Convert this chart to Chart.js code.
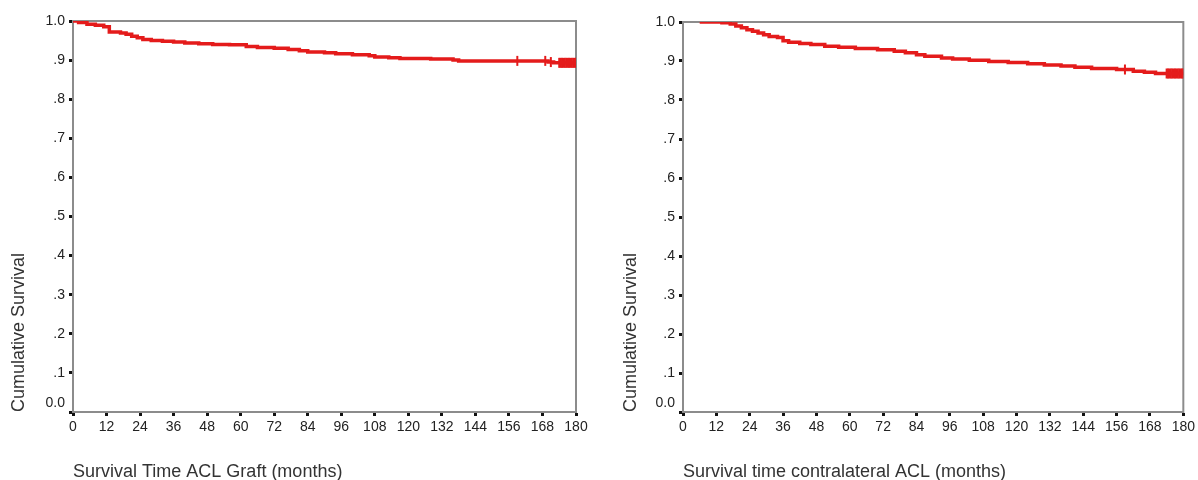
<!DOCTYPE html>
<html>
<head>
<meta charset="utf-8">
<script src="https://cdn.jsdelivr.net/npm/chart.js@4/dist/chart.umd.min.js"></script>
<style>
  body { margin: 0; background: #fff; }
  .panel { position: absolute; top: 0; }
</style>
</head>
<body>
<div class="panel" style="left:0"><canvas id="graftChart" width="600" height="480"></canvas></div>
<div class="panel" style="left:600px"><canvas id="contraChart" width="598" height="480"></canvas></div>
<script>
// survival curves (months, cumulative survival after each step)
const graftMonths   = [0, 2, 5, 8, 11, 13, 17, 19, 21, 23, 25, 28, 32, 36, 40, 45, 50, 56, 62, 66, 72, 77, 81, 84, 90, 94, 100, 106, 108, 113, 117, 128, 136, 138, 170, 172, 180];
const graftSurvival = [1.0, .996, .992, .989, .985, .972, .969, .966, .961, .957, .953, .950, .948, .946, .944, .942, .940, .939, .935, .932, .930, .927, .924, .921, .919, .916, .914, .911, .908, .906, .904, .903, .900, .898, .895, .893, .893];

const graftCensorMonths = [159, 169, 171, 174, 174.5, 175, 175.5, 176, 176.5, 177, 177.5, 178, 178.5, 179, 179.5, 180];
const graftCensorSurv   = [.898, .898, .895, .893, .893, .893, .893, .893, .893, .893, .893, .893, .893, .893, .893, .893];

const contraMonths   = [6, 14, 17, 19, 21, 23, 25, 27, 29, 31, 34, 36, 38, 42, 46, 51, 56, 62, 70, 76, 80, 84, 87, 93, 97, 103, 110, 117, 124, 130, 136, 141, 147, 156, 162, 166, 170, 180];
const contraSurvival = [1.0, .998, .995, .990, .985, .980, .976, .972, .967, .963, .960, .952, .948, .945, .942, .938, .935, .932, .929, .925, .921, .916, .912, .908, .905, .902, .899, .896, .893, .890, .887, .884, .881, .878, .874, .871, .868, .868];

const contraCensorMonths = [159, 174, 174.5, 175, 175.5, 176, 176.5, 177, 177.5, 178, 178.5, 179, 179.5, 180];
const contraCensorSurv   = [.878, .868, .868, .868, .868, .868, .868, .868, .868, .868, .868, .868, .868, .868];

const monthTicks = [0, 12, 24, 36, 48, 60, 72, 84, 96, 108, 120, 132, 144, 156, 168, 180];
const survivalTicks = [0, .1, .2, .3, .4, .5, .6, .7, .8, .9, 1.0];

const red = "#e41b1b";
const font = "'Liberation Sans', Arial, sans-serif";

function toPoints(xs, ys) {
  return xs.map((x, i) => ({ x: x, y: ys[i] }));
}

function survivalLabel(v) {
  const r = Math.round(v * 10);
  if (r === 10) return "1.0";
  // second empty line lifts "0.0" above the x axis labels, like the original
  if (r === 0) return ["0.0", ""];
  return "." + r;
}

const frame = {
  id: "frame",
  beforeDatasetsDraw(chart) {
    const a = chart.chartArea;
    const c = chart.ctx;
    c.save();
    c.strokeStyle = "#8c8c8c";
    c.lineWidth = 2;
    c.strokeRect(a.left, a.top, a.right - a.left, a.bottom - a.top);
    c.restore();
  }
};

function makeChart(id, months, surv, cMonths, cSurv, xTitle, lay) {
  return new Chart(document.getElementById(id), {
    type: "line",
    data: {
      datasets: [{
        data: toPoints(months, surv),
        borderColor: red,
        borderWidth: 3.5,
        stepped: true,
        pointRadius: 0,
        fill: false
      }, {
        data: toPoints(cMonths, cSurv),
        showLine: false,
        pointStyle: "line",
        rotation: 90,
        pointRadius: 5,
        borderColor: red,
        borderWidth: 2
      }]
    },
    options: {
      responsive: false,
      animation: false,
      layout: { padding: { top: lay.top, right: lay.right, left: 0, bottom: 0 } },
      plugins: { legend: { display: false }, tooltip: { enabled: false } },
      scales: {
        x: {
          type: "linear",
          min: 0,
          max: 180,
          afterBuildTicks: (s) => { s.ticks = monthTicks.map(v => ({ value: v })); },
          afterFit: (s) => { s.height = 68; },
          ticks: { color: "#222", font: { family: font, size: 14 }, padding: 3, maxRotation: 0 },
          grid: { drawOnChartArea: false, tickLength: 4, tickWidth: 3, tickColor: "#111" },
          border: { color: "#222", width: 2 },
          title: {
            display: true,
            text: xTitle,
            align: "start",
            color: "#333",
            font: { family: font, size: 18 },
            padding: { top: 0, bottom: -3 }
          }
        },
        y: {
          min: 0,
          max: 1,
          afterBuildTicks: (s) => { s.ticks = survivalTicks.map(v => ({ value: v })); },
          afterFit: (s) => { s.width = lay.yWidth; },
          ticks: { color: "#222", font: { family: font, size: 14 }, padding: 4, callback: survivalLabel },
          grid: { drawOnChartArea: false, tickLength: 4, tickWidth: 3, tickColor: "#111" },
          border: { color: "#777", width: 2 },
          title: {
            display: true,
            text: "Cumulative Survival",
            align: "start",
            color: "#333",
            font: { family: font, size: 18 },
            padding: { top: lay.titleOffset, bottom: 0 }
          }
        }
      }
    },
    plugins: [frame]
  });
}

makeChart("graftChart", graftMonths, graftSurvival, graftCensorMonths, graftCensorSurv,
  "Survival Time ACL Graft (months)", { top: 21, right: 24, yWidth: 73, titleOffset: 8 });

makeChart("contraChart", contraMonths, contraSurvival, contraCensorMonths, contraCensorSurv,
  "Survival time contralateral ACL (months)", { top: 22, right: 12, yWidth: 83, titleOffset: 20 });
</script>
</body>
</html>
